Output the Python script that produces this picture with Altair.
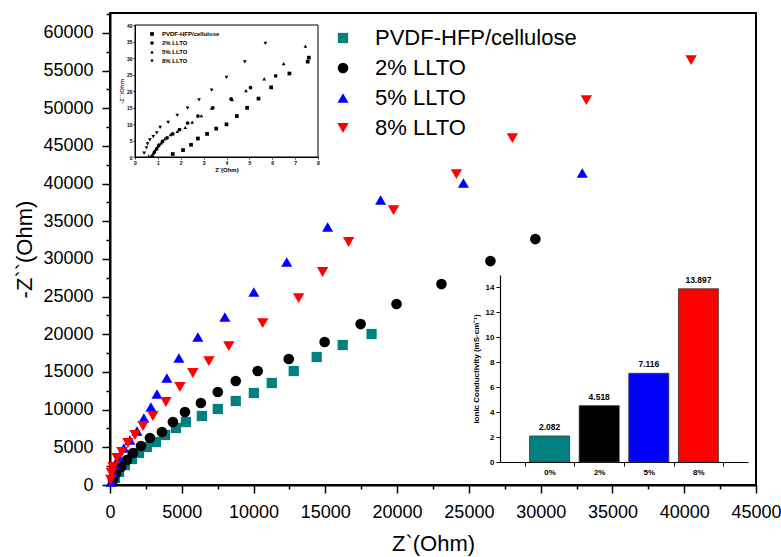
import altair as alt
import pandas as pd

# ---------------- main Nyquist data ----------------
series_names = ["PVDF-HFP/cellulose", "2% LLTO", "5% LLTO", "8% LLTO"]
series_colors = ["#008080", "#000000", "#0000FF", "#FF0000"]
series_shapes = ["square", "circle", "triangle-up", "triangle-down"]
series_sizes = [105, 130, 190, 190]

pvdf_x = [350, 630, 1040, 1530, 2020, 2570, 3200, 3830, 4590, 5290, 6400, 7510, 8760, 10020, 11270, 12800, 14400, 16210, 18220]
pvdf_y = [930, 1730, 2650, 3450, 4250, 5040, 5710, 6640, 7560, 8360, 9160, 10090, 11150, 12210, 13540, 15130, 16990, 18580, 20040]

llto2_x = [210, 420, 770, 1180, 1600, 2160, 2780, 3620, 4380, 5220, 6330, 7510, 8760, 10290, 12450, 14950, 17460, 19960, 23090, 26500, 29630]
llto2_y = [660, 1590, 2390, 3320, 4250, 5180, 6240, 7030, 8360, 9690, 10880, 12340, 13800, 15130, 16720, 18980, 21360, 24020, 26670, 29720, 32640]

llto5_x = [70, 210, 350, 630, 970, 1390, 1880, 2360, 2850, 3270, 3960, 4800, 6120, 8000, 10020, 12310, 15160, 18850, 24620, 32900]
llto5_y = [400, 1590, 2650, 3720, 4910, 5970, 7170, 8890, 10350, 12080, 14200, 16850, 19640, 22290, 25610, 29590, 34240, 37820, 40080, 41400]

llto8_x = [50, 100, 210, 490, 830, 1250, 1740, 2300, 2990, 3890, 4870, 5770, 6890, 8280, 10640, 13140, 14810, 16620, 19750, 24130, 28030, 33180, 40480]
llto8_y = [700, 1600, 2390, 3580, 4380, 5570, 6640, 7830, 9160, 11010, 13000, 14860, 16450, 18440, 21490, 24810, 28270, 32250, 36490, 41270, 46050, 51090, 56400]

x_ticks = list(range(0, 45001, 2500))
y_ticks = list(range(0, 62501, 2500))

# ---------------- top-left inset data ----------------
inset_names = series_names
in_pvdf_x = [1.65, 2.1, 2.45, 2.75, 3.15, 3.55, 4.0, 4.45, 4.9, 5.4, 5.95, 6.75, 7.55, 7.6]
in_pvdf_y = [0.9, 2.1, 3.7, 5.6, 7.0, 8.6, 9.9, 12.4, 14.9, 17.7, 21.1, 25.3, 28.9, 30.1]
in_2_x = [0.75, 0.85, 0.95, 1.05, 1.2, 1.4, 1.65, 1.95, 2.3, 2.75, 3.4, 4.2, 5.05, 6.15]
in_2_y = [0.3, 1.5, 2.5, 3.6, 4.7, 5.8, 7.0, 8.3, 10.3, 12.4, 14.9, 17.6, 21.0, 24.6]
in_5_x = [0.6, 0.8, 0.9, 1.0, 1.15, 1.3, 1.55, 1.85, 2.2, 2.5, 2.9, 3.35, 4.25, 4.85, 5.65, 6.5, 7.45]
in_5_y = [0.3, 1.2, 2.3, 3.3, 4.3, 5.5, 6.8, 7.8, 9.0, 10.6, 12.5, 14.8, 17.4, 20.1, 23.7, 28.3, 33.6]
in_8_x = [0.4, 0.5, 0.55, 0.65, 0.8, 0.95, 1.1, 1.45, 1.85, 2.3, 2.8, 3.35, 4.0, 4.8, 5.7]
in_8_y = [1.2, 2.8, 4.0, 5.2, 6.2, 7.3, 9.0, 10.5, 12.6, 14.8, 17.3, 20.3, 24.1, 28.8, 34.4]
in_x_ticks = [0, 1, 2, 3, 4, 5, 6, 7, 8]
in_y_ticks = [0, 5, 10, 15, 20, 25, 30, 35, 40]

# ---------------- bar inset data ----------------
bar_labels = ["0%", "2%", "5%", "8%"]
bar_values = [2.082, 4.518, 7.116, 13.897]
bar_colors = ["#008080", "#000000", "#0000FF", "#FF0000"]
bar_y_ticks = list(range(0, 16, 1))

# ---------------- tables ----------------
rows = []
for name, xs, ys in zip(series_names, [pvdf_x, llto2_x, llto5_x, llto8_x], [pvdf_y, llto2_y, llto5_y, llto8_y]):
    for a, b in zip(xs, ys):
        rows.append({"series": name, "zr": a, "zi": b})
main_df = pd.DataFrame(rows)

irows = []
for name, xs, ys in zip(inset_names, [in_pvdf_x, in_2_x, in_5_x, in_8_x], [in_pvdf_y, in_2_y, in_5_y, in_8_y]):
    for a, b in zip(xs, ys):
        irows.append({"iseries": name, "ix": a, "iy": b})
inset_df = pd.DataFrame(irows)

bar_df = pd.DataFrame({"level": bar_labels, "cond": bar_values})

FONT = "Liberation Sans"

# ---------------- main plot ----------------
main_legend = alt.Legend(
    orient="none", legendX=222, legendY=14, title=None,
    labelFontSize=22, labelFont=FONT, labelColor="black", labelLimit=0,
    symbolSize=150, symbolStrokeWidth=0, labelOffset=21,
    rowPadding=8, padding=0,
)
xs_main = alt.Scale(domain=[0, 45000], nice=False)
ys_main = alt.Scale(domain=[0, 62650], nice=False)

main = alt.Chart(main_df).mark_point(filled=True, opacity=1).encode(
    x=alt.X("zr:Q", scale=xs_main, axis=alt.Axis(
        orient="bottom", values=x_ticks, format="d",
        labelExpr="datum.value % 5000 == 0 ? datum.label : ''",
        tickSize={"condition": {"test": "datum.value % 5000 == 0", "value": 8}, "value": 4},
        labelFontSize=18, labelPadding=10, labelOverlap=False, labelFlush=False,
        title="Z`(Ohm)", titleFontSize=22, titleFontWeight="normal", titlePadding=12,
        domainWidth=2, tickWidth=1.5, domainColor="black", tickColor="black",
        labelColor="black", titleColor="black", grid=False)),
    y=alt.Y("zi:Q", scale=ys_main, axis=alt.Axis(
        orient="left", values=y_ticks, format="d",
        labelExpr="datum.value % 5000 == 0 ? datum.label : ''",
        tickSize={"condition": {"test": "datum.value % 5000 == 0", "value": 8}, "value": 4},
        labelFontSize=18, labelPadding=9, labelOverlap=False, labelFlush=False,
        title="-Z``(Ohm)", titleFontSize=22, titleFontWeight="normal", titlePadding=6,
        domainWidth=2, tickWidth=1.5, domainColor="black", tickColor="black",
        labelColor="black", titleColor="black", grid=False)),
    color=alt.Color("series:N", scale=alt.Scale(domain=series_names, range=series_colors), legend=main_legend),
    shape=alt.Shape("series:N", scale=alt.Scale(domain=series_names, range=series_shapes), legend=main_legend),
    size=alt.Size("series:N", scale=alt.Scale(domain=series_names, range=series_sizes), legend=None),
)

# ---------------- top-left inset ----------------
xs_in = alt.Scale(domain=[0, 8], range=[25, 208], nice=False)
ys_in = alt.Scale(domain=[0, 40], range=[144, 12], nice=False)
frame_df = pd.DataFrame({"x0": [in_x_ticks[0]], "x1": [in_x_ticks[-1]], "y0": [in_y_ticks[0]], "y1": [in_y_ticks[-1]]})

inset_frame = alt.Chart(frame_df).mark_rect(filled=False, stroke="black", strokeWidth=1).encode(
    x=alt.X("x0:Q", scale=xs_in, axis=alt.Axis(
        orient="bottom", offset=-328, values=in_x_ticks, format="d", labelFontSize=5, labelFontWeight="bold",
        tickSize=2, labelPadding=1, domainWidth=1, tickWidth=0.8, domainColor="black", tickColor="black",
        labelColor="black", title="Z`(Ohm)", titleFontSize=6, titleFontWeight="bold", titlePadding=1,
        titleColor="black", grid=False, labelFlush=False, labelOverlap=False)),
    x2="x1:Q",
    y=alt.Y("y0:Q", scale=ys_in, axis=alt.Axis(
        orient="left", offset=-25, values=in_y_ticks, format="d", labelFontSize=5, labelFontWeight="bold",
        tickSize=2, labelPadding=1, domainWidth=1, tickWidth=0.8, domainColor="black", tickColor="black",
        labelColor="black", title="-Z``/Ohm", titleFontSize=6, titleFontWeight="bold", titlePadding=2,
        titleColor="#7a2a1e", grid=False, labelFlush=False, labelOverlap=False)),
    y2="y1:Q",
)
inset_pts = alt.Chart(inset_df).mark_point(filled=True, size=14, color="black", opacity=1).encode(
    x=alt.X("ix:Q", scale=xs_in),
    y=alt.Y("iy:Q", scale=ys_in),
    shape=alt.Shape("iseries:N", scale=alt.Scale(domain=inset_names, range=series_shapes), legend=alt.Legend(
        orient="none", legendX=39, legendY=18, title=None, labelFontSize=6, labelFontWeight="bold",
        labelFont=FONT, labelColor="black", labelLimit=0, symbolSize=14, symbolFillColor="black",
        symbolStrokeWidth=0, labelOffset=7, rowPadding=3, padding=0)),
)
inset = alt.layer(inset_frame, inset_pts)

# ---------------- bar inset ----------------
xs_bar = alt.Scale(domain=bar_labels, range=[390, 638], paddingInner=0, paddingOuter=0.5)
ys_bar = alt.Scale(domain=[0, 15], range=[449, 262], nice=False)

bars = alt.Chart(bar_df).mark_bar(size=40, stroke="#333333", strokeWidth=0.8).encode(
    x=alt.X("level:N", scale=xs_bar, sort=bar_labels, axis=alt.Axis(
        orient="bottom", offset=-23, tickBand="extent", labelAngle=0, labelFontSize=8,
        labelFontWeight="bold", tickSize=4, labelPadding=2, domainWidth=1.2, tickWidth=1,
        domainColor="black", tickColor="black", labelColor="black", title=None, grid=False)),
    y=alt.Y("cond:Q", scale=ys_bar, axis=alt.Axis(
        orient="left", offset=-390, values=bar_y_ticks,
        labelExpr="datum.value % 2 == 0 ? datum.label : ''",
        tickSize={"condition": {"test": "datum.value % 2 == 0", "value": 4}, "value": 2},
        labelFontSize=8, labelFontWeight="bold", labelPadding=2, domainWidth=1.2, tickWidth=1,
        domainColor="black", tickColor="black", labelColor="black", labelOverlap=False, labelFlush=False,
        title="Ionic Conductivity (mS\u00b7cm\u207b\u00b9)", titleFontSize=8, titleFontWeight="bold",
        titlePadding=5, titleColor="black", grid=False)),
    color=alt.Color("level:N", scale=alt.Scale(domain=bar_labels, range=bar_colors), legend=None),
)
bar_text = alt.Chart(bar_df).mark_text(baseline="bottom", dy=-4, fontSize=8.5, fontWeight="bold", color="black").encode(
    x=alt.X("level:N", scale=xs_bar, sort=bar_labels),
    y=alt.Y("cond:Q", scale=ys_bar),
    text=alt.Text("cond:Q", format=".3f"),
)
bar_inset = alt.layer(bars, bar_text)

chart = alt.layer(main, inset, bar_inset).resolve_scale(
    x="independent", y="independent", color="independent", shape="independent", size="independent"
).resolve_legend(color="independent", shape="independent").properties(
    width=646, height=472,
    padding={"left": 110, "top": 13, "right": 25, "bottom": 72},
    autosize=alt.AutoSizeParams(type="none"),
).configure(font=FONT, background="white").configure_view(stroke="black", strokeWidth=2)

chart.save("out.html", embed_options={"renderer": "svg", "actions": False})
